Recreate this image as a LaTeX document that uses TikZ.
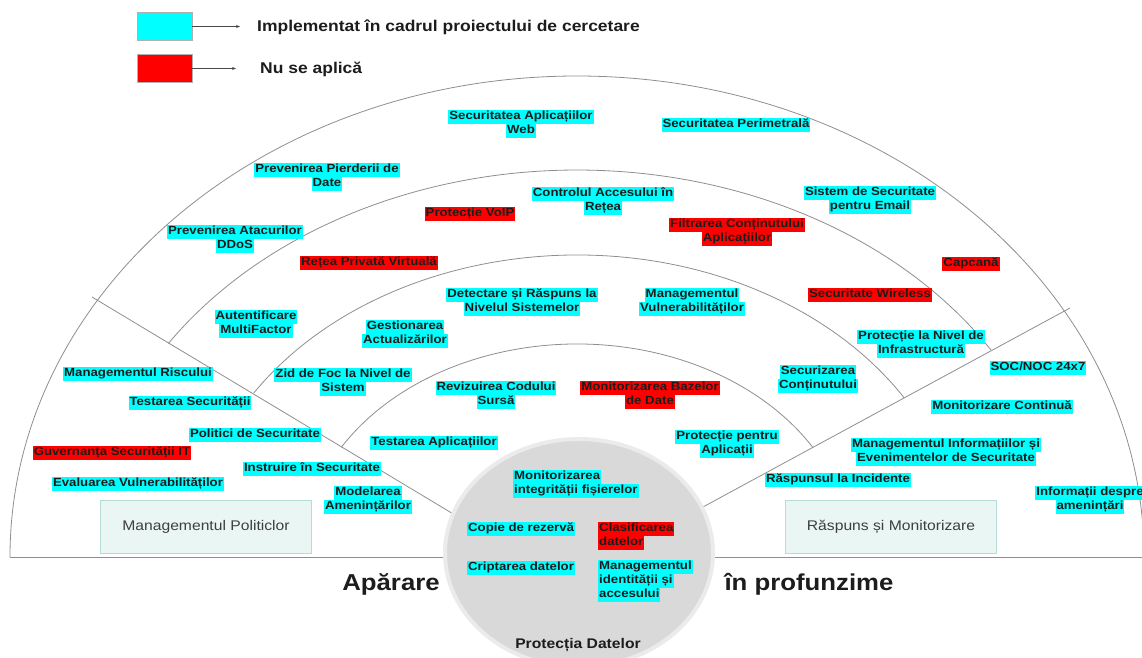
\documentclass[tikz,border=0pt]{standalone}
\usepackage{fontspec}
\setmainfont{Liberation Sans}
\newfontfamily\lblfont{Liberation Sans}[FakeStretch=1.12]
\usetikzlibrary{arrows.meta}
\definecolor{hlcyan}{HTML}{00FFFF}
\definecolor{hlred}{HTML}{FF0000}
\definecolor{ringgray}{HTML}{8E8E8E}
\definecolor{boxfill}{HTML}{EAF6F4}
\definecolor{boxline}{HTML}{B5DCD5}
\definecolor{txt}{HTML}{1C1C1C}
\definecolor{diskfill}{HTML}{D9D9D9}
\definecolor{diskrim}{HTML}{EBEBEB}
\newcommand{\cy}[1]{{\setlength{\fboxsep}{0pt}\colorbox{hlcyan}{\strut\kern1pt#1\kern1pt}}}
\newcommand{\rd}[1]{{\setlength{\fboxsep}{0pt}\colorbox{hlred}{\strut\kern1pt#1\kern1pt}}}

\begin{document}
\begin{tikzpicture}[x=1pt,y=-1pt,
  lbl/.style={font=\lblfont\bfseries\fontsize{11.8}{14}\selectfont,align=center,inner sep=0pt,text=txt},
  lbll/.style={lbl,align=left},
  ring/.style={draw=ringgray,line width=0.8pt},
  sector/.style={draw=boxline,fill=boxfill,line width=0.8pt,inner sep=0pt,
    minimum width=211pt,minimum height=53pt,font=\lblfont\fontsize{14}{16}\selectfont,text=txt!85},
  keybox/.style={draw=ringgray!70,line width=0.5pt,minimum width=55pt,minimum height=28pt,inner sep=0pt},
  keytext/.style={font=\lblfont\bfseries\fontsize{15.6}{18}\selectfont,text=txt,anchor=west,inner sep=0pt},
  bigtext/.style={font=\lblfont\bfseries\fontsize{23}{26}\selectfont,text=txt,anchor=base,inner sep=0pt}]
  \useasboundingbox (0,0) rectangle (1142,657);
  \coordinate (ctr) at (577,557);

  \node[keybox,fill=hlcyan] (cykey) at (164.5,26.5) {};
  \node[keybox,fill=hlred] (rdkey) at (164.5,68.5) {};
  \coordinate (cytip) at (240,26.5);
  \coordinate (rdtip) at (236,68.5);
  \draw[draw=txt!80,line width=0.6pt,-{Stealth[length=4pt,width=3pt]}] (cykey) -- (cytip);
  \draw[draw=txt!80,line width=0.6pt,-{Stealth[length=4pt,width=3pt]}] (rdkey) -- (rdtip);
  \node[keytext] (cytext) at (257,27) {Implementat în cadrul proiectului de cercetare};
  \node[keytext] (rdtext) at (260,69) {Nu se aplică};

  \draw[ring] (10,557) -- (1142,557);
  \draw[ring] (ctr) ++(180:567pt and 481pt) arc[start angle=180,end angle=0,x radius=567pt,y radius=481pt];
  \draw[ring] (ctr) ++(146.5:490pt and 387pt) arc[start angle=146.5,end angle=32.3,x radius=490pt,y radius=387pt];
  \draw[ring] (ctr) ++(147.1:385pt and 302pt) arc[start angle=147.1,end angle=31.85,x radius=385pt,y radius=302pt];
  \draw[ring] (ctr) ++(149:275pt and 213pt) arc[start angle=149,end angle=31,x radius=275pt,y radius=213pt];
  \coordinate (polin) at (470,524);
  \coordinate (polout) at (92,297);
  \coordinate (rspin) at (690,514);
  \coordinate (rspout) at (1070,308);
  \draw[ring] (polin) -- (polout);
  \draw[ring] (rspin) -- (rspout);

  \node[sector] (polbox) at (206,527) {Managementul Politiclor};
  \node[sector] (rspbox) at (891,527) {Răspuns și Monitorizare};

  \draw[draw=diskrim,fill=diskfill,line width=4pt] (579,553) ellipse[x radius=134pt,y radius=114pt];

  \node[lbl] (sapweb) at (521,124) {\cy{Securitatea Aplicațiilor}\\\cy{Web}};
  \node[lbl] (sperim) at (736,125) {\cy{Securitatea Perimetrală}};
  \node[lbl] (ppdate) at (327,177) {\cy{Prevenirea Pierderii de}\\\cy{Date}};
  \node[lbl] (pddos) at (235,239) {\cy{Prevenirea Atacurilor}\\\cy{DDoS}};
  \node[lbl] (semail) at (870,200) {\cy{Sistem de Securitate}\\\cy{pentru Email}};
  \node[lbl] (capcana) at (971,264) {\rd{Capcană}};

  \node[lbl] (vpn) at (369,263) {\rd{Rețea Privată Virtuală}};
  \node[lbl] (voip) at (470,214) {\rd{Protecție VoIP}};
  \node[lbl] (ctrlacc) at (603,201) {\cy{Controlul Accesului în}\\\cy{Rețea}};
  \node[lbl] (filtapp) at (737,232) {\rd{Filtrarea Conținutului}\\\rd{Aplicațiilor}};
  \node[lbl] (wireless) at (870,295) {\rd{Securitate Wireless}};
  \node[lbl] (mfa) at (256,324) {\cy{Autentificare}\\\cy{MultiFactor}};
  \node[lbl] (infra) at (921,344) {\cy{Protecție la Nivel de}\\\cy{Infrastructură}};

  \node[lbl] (edr) at (522,302) {\cy{Detectare și Răspuns la}\\\cy{Nivelul Sistemelor}};
  \node[lbl] (vulnmgmt) at (692,302) {\cy{Managementul}\\\cy{Vulnerabilităților}};
  \node[lbl] (patch) at (405,334) {\cy{Gestionarea}\\\cy{Actualizărilor}};
  \node[lbl] (hostfw) at (343,382) {\cy{Zid de Foc la Nivel de}\\\cy{Sistem}};
  \node[lbl] (contsec) at (818,379) {\cy{Securizarea}\\\cy{Conținutului}};

  \node[lbl] (srcrev) at (496,395) {\cy{Revizuirea Codului}\\\cy{Sursă}};
  \node[lbl] (dbmon) at (650,395) {\rd{Monitorizarea Bazelor}\\\rd{de Date}};
  \node[lbl] (apptest) at (434,443) {\cy{Testarea Aplicațiilor}};
  \node[lbl] (appprot) at (727,444) {\cy{Protecție pentru}\\\cy{Aplicații}};

  \node[lbl] (riskmgmt) at (138,374) {\cy{Managementul Riscului}};
  \node[lbl] (sectest) at (190,403) {\cy{Testarea Securității}};
  \node[lbl] (secpol) at (255,435) {\cy{Politici de Securitate}};
  \node[lbl] (itgov) at (112,453) {\rd{Guvernanța Securității IT}};
  \node[lbl] (sectrain) at (312,469) {\cy{Instruire în Securitate}};
  \node[lbl] (vulnassess) at (138,484) {\cy{Evaluarea Vulnerabilităților}};
  \node[lbl] (threatmod) at (368,500) {\cy{Modelarea}\\\cy{Amenințărilor}};

  \node[lbl] (socnoc) at (1038,368) {\cy{SOC/NOC 24x7}};
  \node[lbl] (contmon) at (1002,407) {\cy{Monitorizare Continuă}};
  \node[lbl] (siem) at (946,452) {\cy{Managementul Informațiilor și}\\\cy{Evenimentelor de Securitate}};
  \node[lbl] (incresp) at (838,480) {\cy{Răspunsul la Incidente}};
  \node[lbl] (threatint) at (1090,500) {\cy{Informații despre}\\\cy{amenințări}};

  \node[lbll,anchor=west] (fim) at (513,484) {\cy{Monitorizarea}\\\cy{integrității fișierelor}};
  \node[lbll,anchor=west] (backup) at (467,529) {\cy{Copie de rezervă}};
  \node[lbll,anchor=west] (dataclass) at (598,536) {\rd{Clasificarea}\\\rd{datelor}};
  \node[lbll,anchor=west] (crypt) at (467,568) {\cy{Criptarea datelor}};
  \node[lbll,anchor=west] (iam) at (598,581) {\cy{Managementul}\\\cy{identității și}\\\cy{accesului}};

  \node[font=\lblfont\bfseries\fontsize{14}{16}\selectfont,text=txt,anchor=base,inner sep=0pt] (datalbl) at (578,648) {Protecția Datelor};
  \node[bigtext] (aparare) at (391,590) {Apărare};
  \node[bigtext] (profund) at (809,590) {în profunzime};
\end{tikzpicture}
\end{document}
